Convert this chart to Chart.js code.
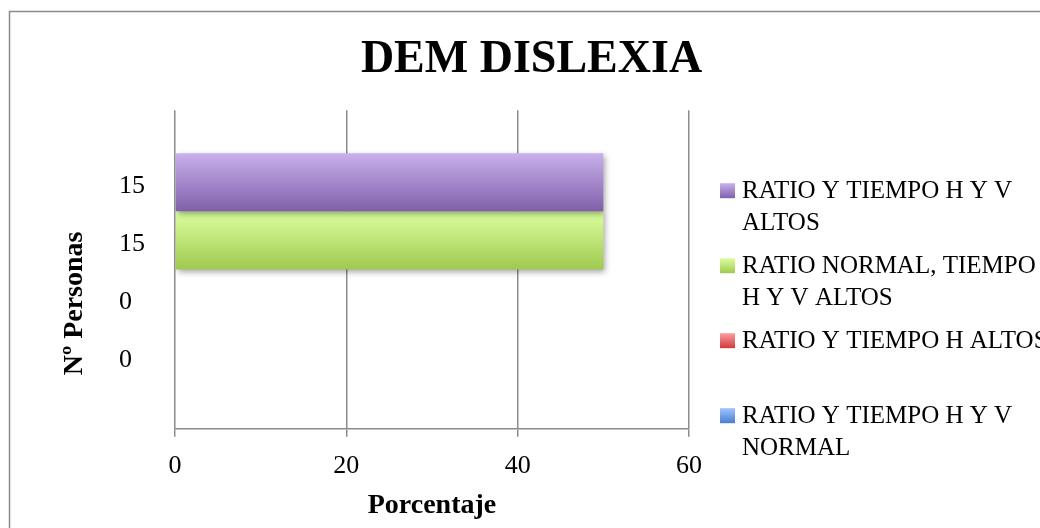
<!DOCTYPE html>
<html>
<head>
<meta charset="utf-8">
<script src="https://cdn.jsdelivr.net/npm/chart.js@4/dist/chart.umd.min.js"></script>
<style>
  html, body { margin: 0; padding: 0; background: #fff; }
  canvas { display: block; }
</style>
</head>
<body>
<canvas id="c" width="1040" height="528"></canvas>
<script>
// ---- data ----
const categories = ['DEM DISLEXIA'];
const seriesNames = [
  ['RATIO Y TIEMPO H Y V', 'ALTOS'],
  ['RATIO NORMAL, TIEMPO', 'H Y V ALTOS'],
  ['RATIO Y TIEMPO H ALTOS'],
  ['RATIO Y TIEMPO H Y V', 'NORMAL']
];
const percentValues = [50, 50, 0, 0];   // Porcentaje
const personCounts = [15, 15, 0, 0];    // Nº Personas
const xTicks = [0, 20, 40, 60];

// ---- styles ----
const seriesColors = [
  ['#c9b1ec', '#7f5fa9'],
  ['#dcffa0', '#9fc94f'],
  ['#ff9d9d', '#cc3c3c'],
  ['#a0c4ff', '#4a7fcf']
];
const FONT = "'Liberation Serif', 'Times New Roman', serif";
const GRID = '#8c8c8c';
const LEGEND_W = 341;

function vGrad(ctx, top, bottom, c) {
  const g = ctx.createLinearGradient(0, top, 0, bottom);
  g.addColorStop(0, c[0]);
  g.addColorStop(1, c[1]);
  return g;
}

// Legend on the right, laid out as its own box so the plot keeps its width.
function makeLegendBox(chart) {
  return {
    position: 'right',
    weight: 10,
    fullSize: false,
    options: {},
    left: 0, top: 0, right: 0, bottom: 0, width: 0, height: 0,
    isHorizontal() { return false; },
    update(maxWidth, maxHeight) {
      this.width = LEGEND_W;
      this.height = maxHeight;
    },
    draw() {
      const ctx = chart.ctx;
      ctx.save();
      ctx.font = `25px ${FONT}`;
      ctx.textAlign = 'left';
      ctx.textBaseline = 'middle';
      const y0 = this.top + 81;
      seriesNames.forEach((lines, k) => {
        const y = y0 + 75 * k;
        const mx = this.left + 31;
        ctx.fillStyle = vGrad(ctx, y - 8, y + 7, seriesColors[k]);
        ctx.fillRect(mx, y - 8, 15, 15);
        ctx.fillStyle = '#000';
        lines.forEach((t, j) => ctx.fillText(t, this.left + 53, y + 32 * j));
      });
      ctx.restore();
    }
  };
}

const decor = {
  id: 'decor',
  beforeInit(chart) {
    Chart.layouts.addBox(chart, makeLegendBox(chart));
  },
  beforeDraw(chart) {
    const ctx = chart.ctx;
    ctx.save();
    ctx.fillStyle = '#fff';
    ctx.fillRect(0, 0, chart.width, chart.height);
    ctx.strokeStyle = GRID;
    ctx.lineWidth = 1.5;
    ctx.strokeRect(9.5, 11.5, chart.width + 20, chart.height + 20);
    ctx.restore();
  },
  beforeDatasetsDraw(chart) {
    const ctx = chart.ctx;
    chart.data.datasets.forEach((ds, i) => {
      chart.getDatasetMeta(i).data.forEach(el => {
        const h = el.height;
        el.options = Object.assign({}, el.options, {
          backgroundColor: vGrad(ctx, el.y - h / 2, el.y + h / 2, seriesColors[i])
        });
      });
    });
    ctx.save();
    ctx.shadowColor = 'rgba(0,0,0,0.35)';
    ctx.shadowBlur = 6;
    ctx.shadowOffsetX = 2;
    ctx.shadowOffsetY = 3;
  },
  afterDatasetsDraw(chart) {
    chart.ctx.restore();
  },
  afterDraw(chart) {
    const ctx = chart.ctx;
    const area = chart.chartArea;
    ctx.save();
    ctx.fillStyle = '#000';
    // person counts beside each bar
    ctx.font = `26px ${FONT}`;
    ctx.textAlign = 'left';
    ctx.textBaseline = 'middle';
    personCounts.forEach((n, i) => {
      const el = chart.getDatasetMeta(i).data[0];
      ctx.fillText(String(n), area.left - 56, el.y + 4);
    });
    // vertical axis title
    ctx.font = `bold 28px ${FONT}`;
    ctx.textAlign = 'center';
    ctx.translate(area.left - 100, (area.top + area.bottom) / 2 + 34);
    ctx.rotate(-Math.PI / 2);
    ctx.fillText('Nº Personas', 0, 0);
    ctx.restore();
  }
};

const datasets = seriesNames.map((lines, i) => ({
  label: lines.join(' '),
  data: [percentValues[i]],
  backgroundColor: seriesColors[i][1],
  borderWidth: 0,
  barPercentage: 1,
  categoryPercentage: 0.73
}));

new Chart(document.getElementById('c'), {
  type: 'bar',
  data: { labels: categories, datasets },
  options: {
    indexAxis: 'y',
    responsive: false,
    animation: false,
    layout: { padding: { left: 33, right: 10, top: 10, bottom: 8 } },
    plugins: {
      legend: { display: false },
      tooltip: { enabled: false },
      title: {
        display: true,
        text: 'DEM DISLEXIA',
        color: '#000',
        font: { family: FONT, size: 46, weight: 'bold', lineHeight: 1.2 },
        padding: { top: 23, bottom: 22 }
      }
    },
    scales: {
      y: {
        type: 'category',
        grid: { display: false },
        border: { display: false },
        ticks: { display: false },
        afterFit(s) { s.width = 142; }
      },
      x: {
        position: 'bottom',
        min: 0,
        max: 60,
        afterBuildTicks(s) { s.ticks = xTicks.map(v => ({ value: v })); },
        grid: { color: GRID, lineWidth: 1.5, tickLength: 8, drawTicks: true },
        border: { display: true, color: GRID, width: 1.5 },
        ticks: { color: '#000', font: { family: FONT, size: 26 }, padding: 14 },
        title: {
          display: true,
          text: 'Porcentaje',
          color: '#000',
          font: { family: FONT, size: 28, weight: 'bold', lineHeight: 0.72 },
          padding: { top: 0, bottom: 4 }
        }
      }
    }
  },
  plugins: [decor]
});
</script>
</body>
</html>
